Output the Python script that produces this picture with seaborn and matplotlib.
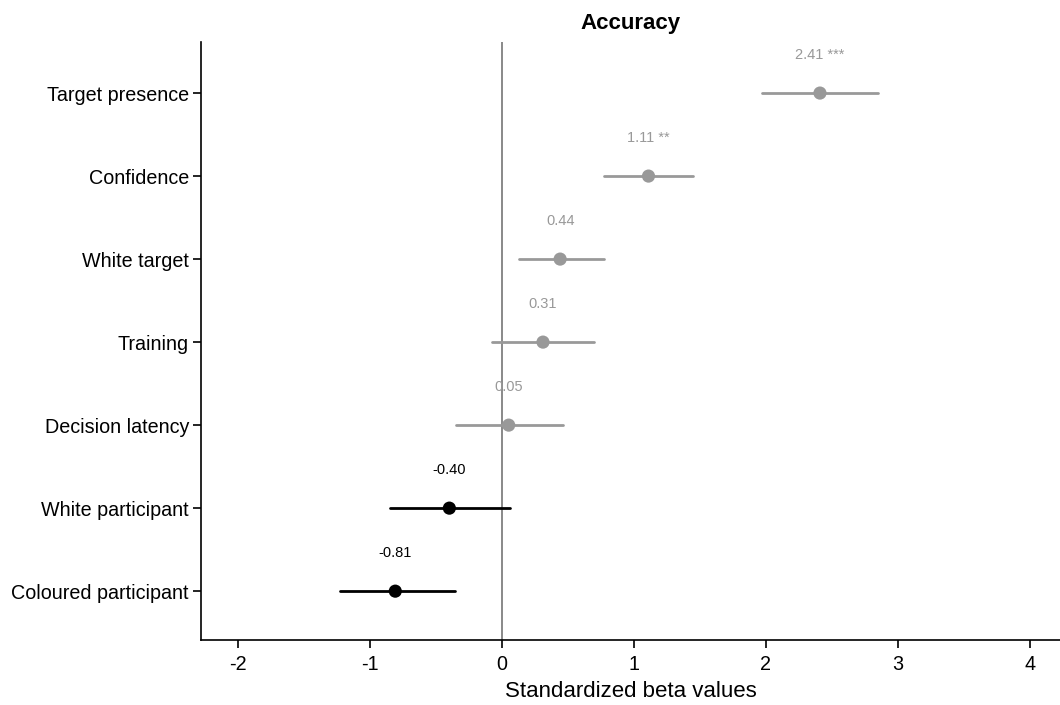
import matplotlib
matplotlib.use("Agg")
import matplotlib.pyplot as plt
import pandas as pd
import seaborn as sns

predictors = ["Target presence", "Confidence", "White target", "Training",
              "Decision latency", "White participant", "Coloured participant"]
betas = [2.41, 1.11, 0.44, 0.31, 0.05, -0.40, -0.81]
ci_low = [1.97, 0.77, 0.13, -0.08, -0.35, -0.85, -1.23]
ci_high = [2.85, 1.45, 0.77, 0.70, 0.46, 0.06, -0.36]
labels = ["2.41 ***", "1.11 **", "0.44", "0.31", "0.05", "-0.40", "-0.81"]
groups = ["pos", "pos", "pos", "pos", "pos", "neg", "neg"]

df = pd.DataFrame({"predictor": predictors, "beta": betas, "lo": ci_low,
                   "hi": ci_high, "label": labels, "group": groups})
df["ypos"] = range(len(df) - 1, -1, -1)

palette = {"pos": "#999999", "neg": "#000000"}

sns.set_theme(style="ticks")
plt.rcParams["font.family"] = ["Liberation Sans", "DejaVu Sans"]
plt.rcParams["text.color"] = "black"
plt.rcParams["axes.labelcolor"] = "black"

fig = plt.figure(figsize=(10.6, 7.05), dpi=100)
ax = fig.add_axes([0.19, 0.092, 0.81, 0.849])

ax.axvline(0, color="#808080", lw=1.3, zorder=1)
for _, r in df.iterrows():
    ax.plot([r.lo, r.hi], [r.ypos, r.ypos], color=palette[r.group], lw=2, zorder=2)
    ax.text(r.beta, r.ypos + 0.46, r.label, color=palette[r.group],
            ha="center", va="center", fontsize=10.5)
sns.scatterplot(data=df, x="beta", y="ypos", hue="group", palette=palette,
                s=90, edgecolor="none", legend=False, ax=ax, zorder=3)

ax.set_xlim(-2.28, 4.23)
ax.set_ylim(-0.59, 6.62)
ax.set_xticks([-2, -1, 0, 1, 2, 3, 4])
ax.set_xticklabels(["-2", "-1", "0", "1", "2", "3", "4"])
ax.set_yticks(df["ypos"])
ax.set_yticklabels(df["predictor"])
ax.tick_params(axis="both", labelsize=14.2, colors="black", length=6, width=1.2)
ax.tick_params(axis="x", pad=5)
ax.tick_params(axis="y", pad=3)
ax.set_xlabel("Standardized beta values", fontsize=16, labelpad=5)
ax.set_ylabel("")
ax.set_title("Accuracy", fontsize=16, fontweight="bold", pad=9)
for s in ["top", "right"]:
    ax.spines[s].set_visible(False)
for s in ["left", "bottom"]:
    ax.spines[s].set_linewidth(1.2)
    ax.spines[s].set_color("black")

fig.savefig("out.png", dpi=100)
